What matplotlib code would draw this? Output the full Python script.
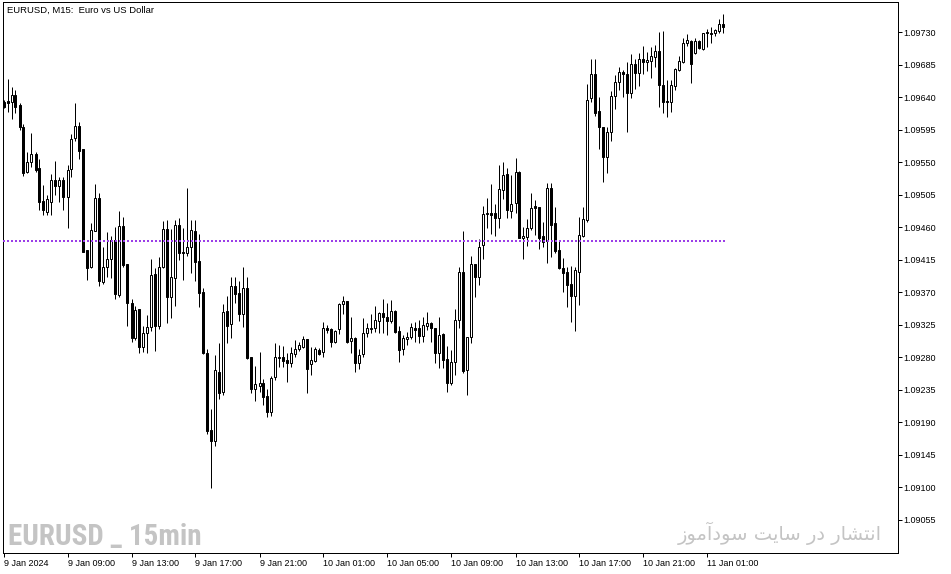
import matplotlib
matplotlib.use("Agg")
import matplotlib.pyplot as plt
import numpy as np

# ---------------- data (EURUSD M15) ----------------
opens = [
    1.09633, 1.09635, 1.09633, 1.09643, 1.09629, 1.09599, 1.09536, 1.09550, 1.09561, 1.09542,
    1.09496, 1.09481, 1.09495, 1.09525, 1.09517, 1.09525, 1.09502, 1.09540, 1.09583, 1.09600,
    1.09568, 1.09428, 1.09405, 1.09455, 1.09500, 1.09384, 1.09405, 1.09416, 1.09442, 1.09366,
    1.09462, 1.09409, 1.09355, 1.09307, 1.09347, 1.09294, 1.09314, 1.09322, 1.09395, 1.09323,
    1.09405, 1.09457, 1.09364, 1.09390, 1.09463, 1.09426, 1.09424, 1.09433, 1.09455, 1.09413,
    1.09370, 1.09286, 1.09179, 1.09164, 1.09260, 1.09232, 1.09344, 1.09326, 1.09379, 1.09369,
    1.09340, 1.09376, 1.09280, 1.09236, 1.09240, 1.09244, 1.09227, 1.09204, 1.09253, 1.09279,
    1.09280, 1.09276, 1.09272, 1.09285, 1.09291, 1.09294, 1.09305, 1.09271, 1.09275, 1.09290,
    1.09287, 1.09321, 1.09319, 1.09301, 1.09319, 1.09354, 1.09358, 1.09303, 1.09307, 1.09272,
    1.09285, 1.09314, 1.09319, 1.09321, 1.09330, 1.09341, 1.09336, 1.09330, 1.09344, 1.09316,
    1.09291, 1.09305, 1.09308, 1.09321, 1.09321, 1.09309, 1.09323, 1.09327, 1.09321, 1.09286,
    1.09312, 1.09278, 1.09244, 1.09274, 1.09332, 1.09398, 1.09262, 1.09308, 1.09409, 1.09391,
    1.09435, 1.09478, 1.09480, 1.09480, 1.09473, 1.09511, 1.09534, 1.09482, 1.09493, 1.09536,
    1.09445, 1.09446, 1.09459, 1.09489, 1.09488, 1.09448, 1.09441, 1.09514, 1.09466, 1.09428,
    1.09404, 1.09398, 1.09381, 1.09365, 1.09398, 1.09448, 1.09470, 1.09639, 1.09672, 1.09621,
    1.09599, 1.09557, 1.09592, 1.09641, 1.09661, 1.09675, 1.09672, 1.09646, 1.09686, 1.09673,
    1.09693, 1.09688, 1.09690, 1.09695, 1.09704, 1.09657, 1.09635, 1.09633, 1.09655, 1.09677,
    1.09688, 1.09715, 1.09718, 1.09701, 1.09718, 1.09706, 1.09730, 1.09729, 1.09729, 1.09731,
    1.09741,
]
highs = [
    1.09636, 1.09665, 1.09654, 1.09650, 1.09632, 1.09603, 1.09564, 1.09590, 1.09564, 1.09554,
    1.09518, 1.09505, 1.09534, 1.09552, 1.09529, 1.09529, 1.09546, 1.09589, 1.09632, 1.09606,
    1.09568, 1.09428, 1.09466, 1.09520, 1.09507, 1.09433, 1.09453, 1.09448, 1.09460, 1.09482,
    1.09474, 1.09409, 1.09361, 1.09351, 1.09347, 1.09323, 1.09339, 1.09416, 1.09404, 1.09419,
    1.09469, 1.09470, 1.09457, 1.09470, 1.09473, 1.09459, 1.09514, 1.09470, 1.09470, 1.09451,
    1.09376, 1.09291, 1.09208, 1.09283, 1.09300, 1.09354, 1.09365, 1.09391, 1.09391, 1.09386,
    1.09405, 1.09391, 1.09280, 1.09268, 1.09287, 1.09250, 1.09236, 1.09254, 1.09300, 1.09297,
    1.09296, 1.09286, 1.09294, 1.09304, 1.09301, 1.09309, 1.09305, 1.09294, 1.09294, 1.09293,
    1.09329, 1.09325, 1.09321, 1.09318, 1.09355, 1.09365, 1.09358, 1.09336, 1.09308, 1.09291,
    1.09334, 1.09327, 1.09340, 1.09351, 1.09343, 1.09361, 1.09355, 1.09359, 1.09345, 1.09323,
    1.09311, 1.09315, 1.09327, 1.09329, 1.09332, 1.09336, 1.09343, 1.09329, 1.09321, 1.09336,
    1.09314, 1.09296, 1.09290, 1.09347, 1.09405, 1.09455, 1.09308, 1.09420, 1.09409, 1.09444,
    1.09489, 1.09500, 1.09520, 1.09492, 1.09546, 1.09550, 1.09542, 1.09532, 1.09556, 1.09538,
    1.09460, 1.09471, 1.09507, 1.09498, 1.09488, 1.09467, 1.09521, 1.09521, 1.09488, 1.09442,
    1.09417, 1.09405, 1.09406, 1.09405, 1.09474, 1.09488, 1.09658, 1.09693, 1.09693, 1.09640,
    1.09599, 1.09599, 1.09648, 1.09671, 1.09682, 1.09677, 1.09688, 1.09700, 1.09693, 1.09701,
    1.09711, 1.09702, 1.09709, 1.09712, 1.09730, 1.09731, 1.09664, 1.09664, 1.09680, 1.09697,
    1.09722, 1.09727, 1.09719, 1.09722, 1.09719, 1.09729, 1.09734, 1.09737, 1.09734, 1.09748,
    1.09755,
]
lows = [
    1.09625, 1.09619, 1.09610, 1.09618, 1.09594, 1.09531, 1.09535, 1.09543, 1.09536, 1.09484,
    1.09477, 1.09477, 1.09477, 1.09505, 1.09495, 1.09484, 1.09459, 1.09529, 1.09579, 1.09554,
    1.09426, 1.09387, 1.09404, 1.09455, 1.09379, 1.09381, 1.09391, 1.09390, 1.09361, 1.09364,
    1.09405, 1.09323, 1.09301, 1.09304, 1.09286, 1.09287, 1.09286, 1.09316, 1.09289, 1.09319,
    1.09404, 1.09327, 1.09334, 1.09351, 1.09415, 1.09387, 1.09420, 1.09397, 1.09386, 1.09350,
    1.09285, 1.09174, 1.09099, 1.09157, 1.09222, 1.09228, 1.09300, 1.09307, 1.09355, 1.09330,
    1.09322, 1.09278, 1.09231, 1.09220, 1.09232, 1.09214, 1.09197, 1.09199, 1.09249, 1.09267,
    1.09267, 1.09246, 1.09267, 1.09280, 1.09289, 1.09293, 1.09231, 1.09255, 1.09274, 1.09283,
    1.09280, 1.09314, 1.09294, 1.09300, 1.09312, 1.09340, 1.09300, 1.09286, 1.09260, 1.09264,
    1.09280, 1.09308, 1.09314, 1.09315, 1.09314, 1.09314, 1.09311, 1.09327, 1.09314, 1.09274,
    1.09283, 1.09297, 1.09305, 1.09301, 1.09300, 1.09301, 1.09318, 1.09301, 1.09272, 1.09265,
    1.09265, 1.09232, 1.09242, 1.09255, 1.09321, 1.09258, 1.09228, 1.09300, 1.09364, 1.09380,
    1.09416, 1.09459, 1.09451, 1.09448, 1.09459, 1.09499, 1.09473, 1.09473, 1.09480, 1.09445,
    1.09416, 1.09434, 1.09456, 1.09449, 1.09430, 1.09433, 1.09410, 1.09419, 1.09424, 1.09402,
    1.09370, 1.09350, 1.09329, 1.09316, 1.09352, 1.09446, 1.09467, 1.09633, 1.09614, 1.09568,
    1.09523, 1.09535, 1.09579, 1.09623, 1.09650, 1.09640, 1.09592, 1.09639, 1.09651, 1.09655,
    1.09672, 1.09676, 1.09666, 1.09682, 1.09626, 1.09618, 1.09612, 1.09619, 1.09650, 1.09676,
    1.09687, 1.09711, 1.09659, 1.09700, 1.09706, 1.09705, 1.09709, 1.09715, 1.09724, 1.09729,
    1.09729,
]
closes = [
    1.09626, 1.09632, 1.09643, 1.09626, 1.09599, 1.09535, 1.09550, 1.09561, 1.09539, 1.09495,
    1.09484, 1.09499, 1.09525, 1.09517, 1.09525, 1.09502, 1.09539, 1.09582, 1.09600, 1.09565,
    1.09426, 1.09404, 1.09456, 1.09500, 1.09386, 1.09405, 1.09416, 1.09442, 1.09368, 1.09462,
    1.09408, 1.09355, 1.09307, 1.09345, 1.09294, 1.09314, 1.09322, 1.09394, 1.09323, 1.09405,
    1.09457, 1.09364, 1.09391, 1.09463, 1.09424, 1.09424, 1.09433, 1.09456, 1.09412, 1.09369,
    1.09286, 1.09178, 1.09164, 1.09262, 1.09231, 1.09343, 1.09323, 1.09379, 1.09368, 1.09340,
    1.09376, 1.09279, 1.09236, 1.09243, 1.09244, 1.09225, 1.09204, 1.09251, 1.09280, 1.09280,
    1.09275, 1.09272, 1.09286, 1.09291, 1.09297, 1.09305, 1.09264, 1.09276, 1.09291, 1.09285,
    1.09321, 1.09318, 1.09301, 1.09316, 1.09354, 1.09358, 1.09301, 1.09307, 1.09272, 1.09283,
    1.09314, 1.09321, 1.09321, 1.09332, 1.09341, 1.09336, 1.09330, 1.09344, 1.09315, 1.09290,
    1.09307, 1.09308, 1.09322, 1.09318, 1.09309, 1.09325, 1.09327, 1.09321, 1.09286, 1.09311,
    1.09276, 1.09244, 1.09274, 1.09332, 1.09398, 1.09261, 1.09308, 1.09409, 1.09391, 1.09433,
    1.09478, 1.09480, 1.09477, 1.09473, 1.09513, 1.09532, 1.09484, 1.09492, 1.09536, 1.09445,
    1.09448, 1.09459, 1.09487, 1.09487, 1.09445, 1.09440, 1.09514, 1.09463, 1.09427, 1.09404,
    1.09397, 1.09380, 1.09365, 1.09401, 1.09449, 1.09471, 1.09636, 1.09672, 1.09618, 1.09599,
    1.09557, 1.09592, 1.09641, 1.09661, 1.09675, 1.09672, 1.09646, 1.09686, 1.09673, 1.09693,
    1.09688, 1.09691, 1.09697, 1.09704, 1.09657, 1.09633, 1.09633, 1.09657, 1.09679, 1.09690,
    1.09715, 1.09719, 1.09686, 1.09718, 1.09708, 1.09729, 1.09729, 1.09727, 1.09733, 1.09741,
    1.09737,
]
level_price = 1.09441

price_ticks = [1.09055, 1.09100, 1.09145, 1.09190, 1.09235, 1.09280, 1.09325, 1.09370,
               1.09415, 1.09460, 1.09505, 1.09550, 1.09595, 1.09640, 1.09685, 1.09730]
time_tick_bars = [0, 16, 32, 48, 64, 80, 96, 112, 128, 144, 160, 176]
time_tick_labels = ["9 Jan 2024", "9 Jan 09:00", "9 Jan 13:00", "9 Jan 17:00",
                    "9 Jan 21:00", "10 Jan 01:00", "10 Jan 05:00", "10 Jan 09:00",
                    "10 Jan 13:00", "10 Jan 17:00", "10 Jan 21:00", "11 Jan 01:00"]

title_text = "EURUSD, M15:  Euro vs US Dollar"
watermark_left = "EURUSD _ 15min"
watermark_right = "انتشار در سایت سودآموز"


# ---------------- minimal Arabic-script shaping (no external libs) ----------------
FORMS = {  # isolated, final, initial, medial
    "\u0627": ("\uFE8D", "\uFE8E", None, None),
    "\u0622": ("\uFE81", "\uFE82", None, None),
    "\u0646": ("\uFEE5", "\uFEE6", "\uFEE7", "\uFEE8"),
    "\u062A": ("\uFE95", "\uFE96", "\uFE97", "\uFE98"),
    "\u0634": ("\uFEB5", "\uFEB6", "\uFEB7", "\uFEB8"),
    "\u0631": ("\uFEAD", "\uFEAE", None, None),
    "\u062F": ("\uFEA9", "\uFEAA", None, None),
    "\u0633": ("\uFEB1", "\uFEB2", "\uFEB3", "\uFEB4"),
    "\u06CC": ("\uFBFC", "\uFBFD", "\uFEF3", "\uFEF4"),
    "\u0648": ("\uFEED", "\uFEEE", None, None),
    "\u0645": ("\uFEE1", "\uFEE2", "\uFEE3", "\uFEE4"),
    "\u0632": ("\uFEAF", "\uFEB0", None, None),
}


def shape_rtl(text):
    out = []
    for word in text.split(" "):
        shaped = []
        for j, ch in enumerate(word):
            f = FORMS.get(ch)
            if f is None:
                shaped.append(ch)
                continue
            prev = FORMS.get(word[j - 1]) if j > 0 else None
            jp = prev is not None and prev[2] is not None
            jn = f[2] is not None and j < len(word) - 1 and word[j + 1] in FORMS
            if jp and jn:
                shaped.append(f[3])
            elif jp:
                shaped.append(f[1])
            elif jn:
                shaped.append(f[2])
            else:
                shaped.append(f[0])
        out.append("".join(shaped))
    return " ".join(out)[::-1]


# ---------------- figure ----------------
W, H = 951, 574
PX = 72 / 100  # one pixel in points
fig = plt.figure(figsize=(W / 100, H / 100), dpi=100)
fig.patch.set_facecolor("white")
ax = fig.add_axes([3 / W, 1 - 553 / H, 895 / W, 551 / H])

o = np.array(opens)
h = np.array(highs)
l = np.array(lows)
c = np.array(closes)
x = np.arange(len(o))
up = c >= o
bottoms = np.minimum(o, c)
heights = np.abs(c - o)

ax.vlines(x, l, h, color="black", linewidth=PX, zorder=2)
ax.bar(x[up], heights[up], bottom=bottoms[up], width=0.5, facecolor="white",
       edgecolor="black", linewidth=PX, zorder=3)
ax.bar(x[~up], heights[~up], bottom=bottoms[~up], width=0.5, facecolor="black",
       edgecolor="black", linewidth=PX, zorder=3)

ax.hlines(level_price, -0.125, len(o) - 0.7, colors="#9b3ee8", linewidth=2 * PX,
          linestyles=(0, (1, 1)), zorder=4)

ax.set_xlim(-0.125, -0.125 + 895 / 4)
ax.set_ylim(1.090093, 1.097715)

for s in ax.spines.values():
    s.set_color("black")
    s.set_linewidth(PX)

tick_font = {"family": ["Liberation Sans", "DejaVu Sans"], "size": 6.5}
ax.yaxis.tick_right()
ax.set_yticks(price_ticks)
ax.set_yticklabels([f"{p:.5f}" for p in price_ticks], fontdict=tick_font)
ax.tick_params(axis="y", direction="out", length=3, width=PX, pad=0.8, colors="black")

ax.set_xticks(time_tick_bars)
ax.set_xticklabels(time_tick_labels, fontdict=tick_font, ha="left")
ax.tick_params(axis="x", direction="out", length=3, width=PX, pad=1.0, colors="black")

fig.text(7 / W, 1 - 10 / H, title_text, ha="left", va="center", fontsize=6.8,
         family=["Liberation Sans", "DejaVu Sans"], color="black")

fig.text(8 / W, 1 - 545 / H, watermark_left, ha="left", va="baseline", fontsize=21,
         fontweight="bold", fontstretch="condensed",
         family=["Liberation Sans Narrow", "Roboto Condensed", "DejaVu Sans Condensed",
                 "DejaVu Sans"], color="#c4c4c4")

fig.text(882 / W, 1 - 540 / H, shape_rtl(watermark_right), ha="right", va="baseline",
         fontsize=14, family=["DejaVu Sans"], color="#c4c4c4")

fig.savefig("out.png", dpi=100, facecolor="white")
